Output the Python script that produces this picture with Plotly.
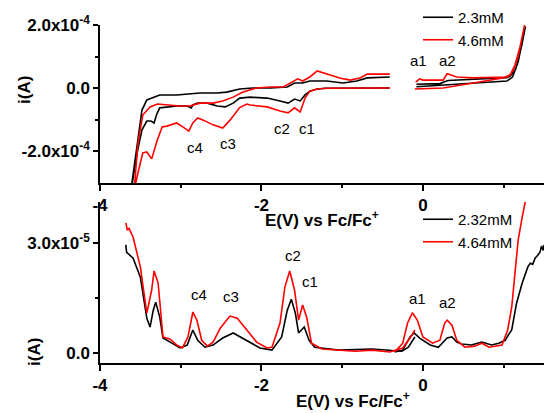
import plotly.graph_objects as go

FONT = "Liberation Sans, Arial, sans-serif"
TOP_UNIT = 1e-4   # top panel currents are listed in units of 1e-4 A
BOT_UNIT = 1e-5   # bottom panel currents are listed in units of 1e-5 A

# ---------------- top panel: cyclic voltammograms ----------------
# 2.3 mM, scan window -0.4 .. -3.6 V (cathodic then anodic return)
cv_23_left_E = [-0.41, -0.80, -1.20, -1.31, -1.40, -1.46, -1.52, -1.59, -1.67, -1.77, -1.93, -2.14,
                -2.27, -2.35, -2.45, -2.55, -2.67, -2.79, -2.85, -2.87, -2.92, -3.05, -3.17, -3.26,
                -3.30, -3.33, -3.37, -3.42, -3.48, -3.54, -3.60, -3.64,
                -3.62, -3.58, -3.54, -3.48, -3.42, -3.36, -3.26, -3.05, -2.89, -2.76, -2.55, -2.43,
                -2.27, -2.11, -1.89, -1.68, -1.59, -1.49, -1.40, -1.19, -0.99, -0.82, -0.69, -0.41]
cv_23_left_i = [0.00, 0.00, -0.01, -0.03, -0.10, -0.22, -0.41, -0.35, -0.48, -0.41, -0.32, -0.29,
                -0.32, -0.48, -0.60, -0.57, -0.48, -0.48, -0.54, -0.63, -0.57, -0.57, -0.60, -0.63,
                -0.85, -1.11, -1.05, -1.05, -1.33, -2.06, -3.02, -3.30,
                -3.30, -2.60, -1.75, -0.70, -0.38, -0.32, -0.22, -0.22, -0.19, -0.16, -0.16, -0.13,
                -0.03, 0.00, 0.00, 0.03, 0.16, 0.16, 0.22, 0.22, 0.16, 0.22, 0.32, 0.35]
# 2.3 mM, scan window -0.1 .. 1.27 V
cv_23_right_E = [-0.08, 0.25, 0.62, 1.04, 1.11, 1.18, 1.23, 1.27,
                 1.22, 1.15, 1.08, 1.04, 0.62, 0.40, 0.31, 0.21, -0.08]
cv_23_right_i = [0.04, 0.10, 0.16, 0.22, 0.35, 0.83, 1.46, 1.95,
                 1.30, 0.60, 0.38, 0.33, 0.29, 0.27, 0.24, 0.14, 0.12]

# 4.6 mM
cv_46_left_E = [-0.41, -0.80, -1.20, -1.31, -1.40, -1.46, -1.52, -1.59, -1.67, -1.77, -1.93, -2.14,
                -2.18, -2.27, -2.39, -2.48, -2.60, -2.72, -2.79, -2.85, -2.90, -2.97, -3.05, -3.17,
                -3.23, -3.29, -3.36, -3.42, -3.47, -3.53, -3.56, -3.59,
                -3.59, -3.57, -3.53, -3.47, -3.38, -3.29, -3.17, -3.01, -2.89, -2.76, -2.60, -2.48,
                -2.35, -2.23, -2.06, -1.89, -1.73, -1.61, -1.55, -1.49, -1.40, -1.31, -1.19, -1.03,
                -0.90, -0.78, -0.69, -0.57, -0.41]
cv_46_left_i = [0.00, 0.00, -0.01, -0.03, -0.10, -0.32, -0.76, -0.63, -0.79, -0.73, -0.60, -0.54,
                -0.51, -0.62, -1.02, -1.27, -1.17, -1.02, -0.95, -1.11, -1.37, -1.24, -1.11, -1.21,
                -1.24, -1.65, -2.25, -2.03, -2.06, -2.70, -3.08, -3.40,
                -3.40, -3.02, -1.75, -0.86, -0.60, -0.51, -0.54, -0.57, -0.57, -0.48, -0.48, -0.41,
                -0.29, -0.13, 0.00, 0.03, 0.03, 0.19, 0.29, 0.22, 0.35, 0.54, 0.44, 0.32,
                0.25, 0.32, 0.44, 0.44, 0.44]
cv_46_right_E = [-0.10, 0.25, 0.62, 0.99, 1.08, 1.14, 1.20, 1.24, 1.26,
                 1.24, 1.18, 1.12, 1.05, 0.62, 0.42, 0.30, 0.25, 0.00, -0.04, -0.09]
cv_46_right_i = [-0.03, 0.00, 0.16, 0.32, 0.41, 0.73, 1.27, 1.78, 2.00,
                 1.70, 1.00, 0.55, 0.35, 0.32, 0.35, 0.45, 0.25, 0.25, 0.29, 0.19]

# ---------------- bottom panel: differential pulse voltammograms ----------------
dpv_232_a_E = [-3.68, -3.67, -3.59, -3.50, -3.42, -3.38, -3.34, -3.31, -3.26, -3.22, -3.13, -3.01,
               -2.92, -2.85, -2.79, -2.70, -2.60, -2.48, -2.35, -2.18, -2.02, -1.87, -1.75, -1.68,
               -1.63, -1.58, -1.54, -1.47, -1.41, -1.34, -1.04, -0.63, -0.26, -0.18, -0.10]
dpv_232_a_i = [2.95, 2.75, 2.59, 2.07, 0.95, 0.71, 1.17, 1.39, 0.98, 0.41, 0.30, 0.14,
               0.22, 0.63, 0.35, 0.16, 0.22, 0.41, 0.55, 0.35, 0.14, 0.08, 0.44, 1.17,
               1.47, 1.09, 0.55, 0.71, 0.35, 0.16, 0.08, 0.11, 0.05, 0.16, 0.44]
dpv_232_b_E = [-0.35, -0.25, -0.16, -0.11, -0.04, 0.09, 0.19, 0.30, 0.36, 0.42, 0.48, 0.60,
               0.73, 0.85, 0.94, 1.02, 1.06, 1.10, 1.16, 1.23, 1.30, 1.33, 1.36, 1.39, 1.42,
               1.45, 1.47, 1.49, 1.50]
dpv_232_b_i = [0.03, 0.08, 0.44, 0.55, 0.41, 0.22, 0.16, 0.41, 0.44, 0.30, 0.25, 0.22,
               0.30, 0.22, 0.27, 0.35, 0.50, 0.63, 1.36, 1.91, 2.35, 2.45, 2.42, 2.59, 2.66,
               2.75, 2.92, 2.80, 2.95]

dpv_464_a_E = [-3.68, -3.66, -3.64, -3.59, -3.50, -3.42, -3.36, -3.33, -3.28, -3.22, -3.13, -3.05,
               -2.98, -2.91, -2.85, -2.80, -2.74, -2.67, -2.60, -2.51, -2.45, -2.39, -2.30, -2.18,
               -2.06, -1.93, -1.87, -1.77, -1.71, -1.65, -1.59, -1.54, -1.49, -1.44, -1.38, -1.25,
               -0.84, -0.63, -0.41, -0.25, -0.16, -0.10]
dpv_464_a_i = [3.55, 3.35, 3.40, 3.16, 2.35, 1.09, 1.72, 2.24, 1.91, 0.44, 0.38, 0.22,
               0.14, 0.44, 1.12, 0.90, 0.35, 0.19, 0.30, 0.68, 0.85, 1.01, 0.95, 0.63,
               0.30, 0.14, 0.16, 0.82, 1.80, 2.24, 1.72, 0.90, 1.31, 0.98, 0.27, 0.11,
               0.05, 0.08, 0.03, 0.14, 0.41, 0.63]
dpv_464_b_E = [-0.35, -0.25, -0.19, -0.13, -0.07, 0.00, 0.12, 0.21, 0.27, 0.30, 0.36, 0.42,
               0.52, 0.64, 0.73, 0.82, 0.98, 1.05, 1.10, 1.14, 1.18, 1.23, 1.27]
dpv_464_b_i = [0.03, 0.27, 0.82, 1.10, 0.90, 0.44, 0.27, 0.35, 0.82, 0.90, 0.76, 0.35,
               0.16, 0.19, 0.27, 0.16, 0.22, 0.63, 1.25, 2.18, 3.08, 3.71, 4.15]

# ---------------- labels ----------------
top_tick_vals = [-2e-4, 0.0, 2e-4]
top_tick_text = ["-2.0x10<sup>-4</sup>", "0.0", "2.0x10<sup>-4</sup>"]
bot_tick_vals = [0.0, 3e-5]
bot_tick_text = ["0.0", "3.0x10<sup>-5</sup>"]
x_tick_vals = [-4, -2, 0]
x_tick_text = ["-4", "-2", "0"]

top_peaks = ["c4", "c3", "c2", "c1", "a1", "a2"]
top_peak_E = [-2.82, -2.41, -1.75, -1.44, -0.06, 0.30]
top_peak_i = [-1.90, -1.75, -1.30, -1.30, 0.86, 0.86]
bot_peaks = ["c4", "c3", "c2", "c1", "a1", "a2"]
bot_peak_E = [-2.77, -2.38, -1.61, -1.40, -0.07, 0.30]
bot_peak_i = [1.61, 1.53, 2.67, 1.94, 1.50, 1.39]

W, H = 544, 413

fig = go.Figure()

def add(E, I, unit, color, name, group, show, xa, ya, leg):
    fig.add_trace(go.Scatter(
        x=E, y=[v * unit for v in I], mode="lines",
        line=dict(color=color, width=1.6), name=name, legendgroup=group,
        showlegend=show, xaxis=xa, yaxis=ya, legend=leg, hoverinfo="skip"))

add(cv_23_left_E, cv_23_left_i, TOP_UNIT, "black", "2.3mM", "t1", True, "x", "y", "legend")
add(cv_23_right_E, cv_23_right_i, TOP_UNIT, "black", "2.3mM", "t1", False, "x", "y", "legend")
add(cv_46_left_E, cv_46_left_i, TOP_UNIT, "red", "4.6mM", "t2", True, "x", "y", "legend")
add(cv_46_right_E, cv_46_right_i, TOP_UNIT, "red", "4.6mM", "t2", False, "x", "y", "legend")

add(dpv_232_a_E, dpv_232_a_i, BOT_UNIT, "black", "2.32mM", "b1", True, "x2", "y2", "legend2")
add(dpv_232_b_E, dpv_232_b_i, BOT_UNIT, "black", "2.32mM", "b1", False, "x2", "y2", "legend2")
add(dpv_464_a_E, dpv_464_a_i, BOT_UNIT, "red", "4.64mM", "b2", True, "x2", "y2", "legend2")
add(dpv_464_b_E, dpv_464_b_i, BOT_UNIT, "red", "4.64mM", "b2", False, "x2", "y2", "legend2")

tickfont = dict(family=FONT, size=17, color="black", weight="bold")
common_axis = dict(showline=True, linecolor="black", linewidth=1.5, ticks="outside",
                   tickcolor="black", tickwidth=1.5, showgrid=False, zeroline=False,
                   tickfont=tickfont, automargin=False)
minor_x = dict(tickmode="array", tickvals=[-3, -1, 1], ticks="outside", ticklen=3,
               tickwidth=1.5, tickcolor="black")

x_dom = [100 / W, 1.0]
legend_font = dict(family=FONT, size=15, color="black")
fig.update_layout(
    width=W, height=H,
    margin=dict(l=0, r=0, t=0, b=0, autoexpand=False),
    paper_bgcolor="white", plot_bgcolor="white",
    font=dict(family=FONT, color="black"),
    xaxis=dict(domain=x_dom, range=[-4, 1.5], anchor="y", tickmode="array",
               tickvals=x_tick_vals, ticktext=x_tick_text, ticklen=6, minor=minor_x,
               **common_axis),
    yaxis=dict(domain=[1 - 183 / H, 1 - 25 / H], range=[-3.016e-4, 2.0e-4], anchor="x",
               tickmode="array", tickvals=top_tick_vals, ticktext=top_tick_text, ticklen=5,
               minor=dict(tickmode="array", tickvals=[-1e-4, 1e-4], ticks="outside", ticklen=3,
                          tickwidth=1.5, tickcolor="black"), **common_axis),
    xaxis2=dict(domain=x_dom, range=[-4, 1.5], anchor="y2", tickmode="array",
                tickvals=x_tick_vals, ticktext=x_tick_text, ticklen=6, minor=minor_x,
                **common_axis),
    yaxis2=dict(domain=[1 - 363 / H, 1 - 202 / H], range=[-0.27e-5, 4.12e-5], anchor="x2",
                tickmode="array", tickvals=bot_tick_vals, ticktext=bot_tick_text, ticklen=5,
                minor=dict(tickmode="array", tickvals=[1.5e-5], ticks="outside", ticklen=3,
                           tickwidth=1.5, tickcolor="black"), **common_axis),
    legend=dict(x=418 / W, y=1 - 1 / H, xanchor="left", yanchor="top",
                bgcolor="rgba(0,0,0,0)", font=legend_font, tracegroupgap=0, itemwidth=30),
    legend2=dict(x=418 / W, y=1 - 203 / H, xanchor="left", yanchor="top",
                 bgcolor="rgba(0,0,0,0)", font=legend_font, tracegroupgap=0, itemwidth=30),
)

annotations = []
peak_font = dict(family=FONT, size=15, color="black")
for t, e, i in zip(top_peaks, top_peak_E, top_peak_i):
    annotations.append(dict(text=t, x=e, y=i * TOP_UNIT, xref="x", yref="y", showarrow=False,
                            xanchor="center", yanchor="middle", font=peak_font))
for t, e, i in zip(bot_peaks, bot_peak_E, bot_peak_i):
    annotations.append(dict(text=t, x=e, y=i * BOT_UNIT, xref="x2", yref="y2", showarrow=False,
                            xanchor="center", yanchor="middle", font=peak_font))

title_font = dict(family=FONT, size=17, color="black", weight="bold")
x_title = "E(V) vs Fc/Fc<sup>+</sup>"
annotations += [
    dict(text=x_title, x=322 / W, y=1 - 219 / H, xref="paper", yref="paper",
         xanchor="center", yanchor="middle", showarrow=False, font=title_font),
    dict(text=x_title, x=353 / W, y=0.0, xref="paper", yref="paper",
         xanchor="center", yanchor="bottom", showarrow=False, font=title_font),
    dict(text="i(A)", x=24 / W, y=1 - 90 / H, xref="paper", yref="paper",
         xanchor="center", yanchor="middle", showarrow=False, textangle=-90, font=title_font),
    dict(text="i(A)", x=34 / W, y=1 - 352 / H, xref="paper", yref="paper",
         xanchor="center", yanchor="middle", showarrow=False, textangle=-90, font=title_font),
]
fig.update_layout(annotations=annotations)

fig.write_html("out.html", config={"displayModeBar": False},
               post_script="document.body.style.margin='0px';")
